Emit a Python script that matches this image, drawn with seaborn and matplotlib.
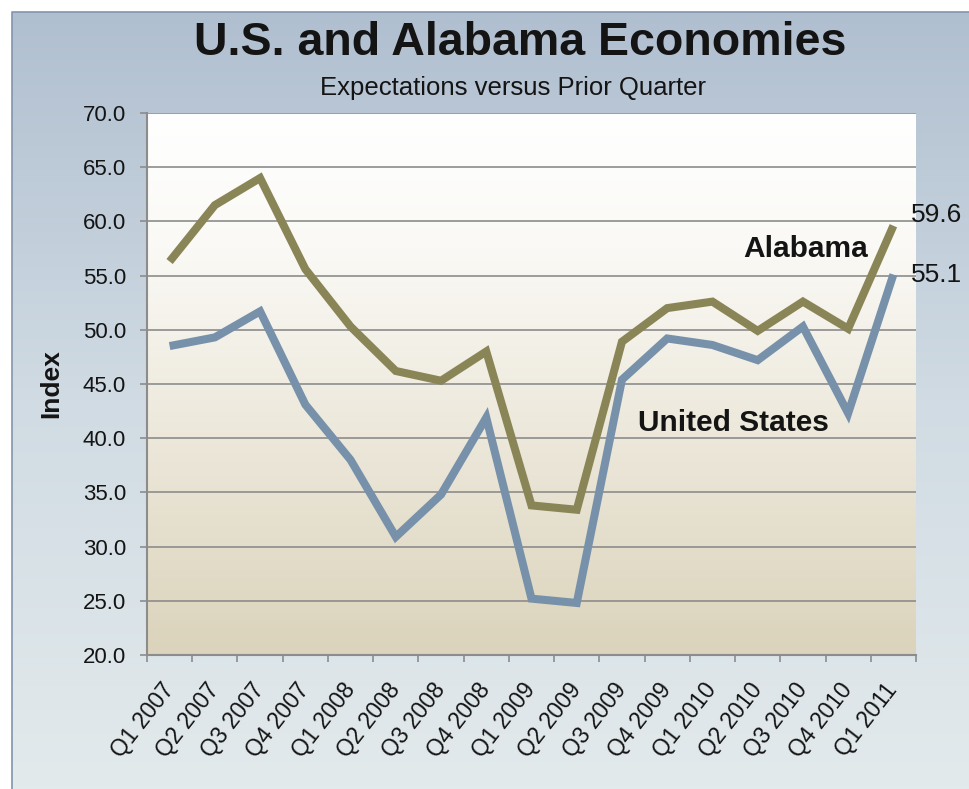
import numpy as np
import pandas as pd
import matplotlib
matplotlib.use("Agg")
import matplotlib.pyplot as plt
import seaborn as sns
from matplotlib.colors import LinearSegmentedColormap
from matplotlib.lines import Line2D
from matplotlib.ticker import FixedLocator, FormatStrFormatter

# Survey index by quarter
quarters = ["Q1 2007", "Q2 2007", "Q3 2007", "Q4 2007",
            "Q1 2008", "Q2 2008", "Q3 2008", "Q4 2008",
            "Q1 2009", "Q2 2009", "Q3 2009", "Q4 2009",
            "Q1 2010", "Q2 2010", "Q3 2010", "Q4 2010",
            "Q1 2011"]
alabama = [56.3, 61.5, 64.0, 55.6, 50.3, 46.2, 45.3, 48.0, 33.8,
           33.4, 48.9, 52.0, 52.6, 49.9, 52.6, 50.1, 59.6]
united_states = [48.5, 49.3, 51.7, 43.1, 38.0, 30.9, 34.8, 41.9, 25.2,
                 24.8, 45.4, 49.2, 48.6, 47.2, 50.3, 42.3, 55.1]
y_ticks = [20, 25, 30, 35, 40, 45, 50, 55, 60, 65, 70]

series_colors = {"Alabama": "#8A8556", "United States": "#7791AB"}
text_color = "#141414"

df = pd.DataFrame({
    "pos": list(range(len(quarters))) * 2,
    "quarter": quarters * 2,
    "value": alabama + united_states,
    "series": ["Alabama"] * len(quarters) + ["United States"] * len(quarters),
})

sns.set_theme(style="white")
plt.rcParams["font.family"] = ["Liberation Sans", "DejaVu Sans"]

W, H = 969, 789
fig = plt.figure(figsize=(W / 100, H / 100), dpi=100)
fig.patch.set_facecolor("white")

# slide-style backdrop with a vertical blue-grey gradient
bg = fig.add_axes([12 / W, 0, 1 - 12 / W, 1 - 12 / H], zorder=-10)
bg_cmap = LinearSegmentedColormap.from_list(
    "backdrop", [(0, "#B0BFD0"), (0.5, "#D0DBE3"), (1, "#E3EAEC")])
bg.imshow(np.linspace(0, 1, 256).reshape(-1, 1), cmap=bg_cmap,
          aspect="auto", extent=[0, 1, 0, 1], origin="upper")
bg.set_xlim(0, 1)
bg.set_ylim(0, 1)
bg.axis("off")
# frame on the left and top edges only
bg.add_line(Line2D([0, 0, 1], [0, 1, 1], transform=bg.transAxes,
                   color="#8395AC", lw=1.2, clip_on=False))

# plotting area
x0, x1, y0, y1 = 147, 916, 113, 655
ax = fig.add_axes([x0 / W, 1 - y1 / H, (x1 - x0) / W, (y1 - y0) / H])
plot_cmap = LinearSegmentedColormap.from_list(
    "panel", [(0, "#FFFFFF"), (0.25, "#FAF9F5"), (0.55, "#EEEADE"), (1, "#DBD3BB")])
ax.imshow(np.linspace(0, 1, 256).reshape(-1, 1), cmap=plot_cmap, aspect="auto",
          extent=[-0.5, len(quarters) - 0.5, 20, 70], origin="upper", zorder=-1)

sns.lineplot(data=df, x="pos", y="value", hue="series", palette=series_colors,
             linewidth=5.8, legend=False, ax=ax, zorder=3)
for line in ax.lines:
    line.set_solid_joinstyle("miter")
    line.set_solid_capstyle("butt")

ax.set_xlim(-0.5, len(quarters) - 0.5)
ax.set_ylim(20, 70)
ax.set_facecolor("none")

# horizontal gridlines
ax.yaxis.grid(True, color="#8C8C8C", lw=1.2)
ax.xaxis.grid(False)
ax.set_axisbelow(True)

for side in ("top", "right"):
    ax.spines[side].set_visible(False)
for side in ("left", "bottom"):
    ax.spines[side].set_color("#8C8C8C")
    ax.spines[side].set_linewidth(1.5)

ax.set_yticks(y_ticks)
ax.yaxis.set_major_formatter(FormatStrFormatter("%.1f"))
ax.tick_params(axis="y", left=True, length=5, width=1.2, color="#8C8C8C",
               pad=10, labelsize=16, labelcolor=text_color)

ax.set_xticks(range(len(quarters)))
ax.set_xticklabels(quarters, rotation=52, ha="right", va="center",
                   rotation_mode="anchor", fontsize=16.5, color=text_color)
ax.xaxis.set_minor_locator(FixedLocator(np.arange(-0.5, len(quarters), 1)))
ax.tick_params(axis="x", which="major", bottom=True, length=0, pad=22)
ax.tick_params(axis="x", which="minor", bottom=True, length=5, width=1.2,
               color="#8C8C8C")

ax.set_xlabel("")
ax.set_ylabel("Index", fontsize=19, fontweight="bold", color=text_color,
              labelpad=14)

# titles
fig.text(520 / W, 1 - 55 / H, "U.S. and Alabama Economies", ha="center",
         va="baseline", fontsize=33.5, fontweight="bold", color=text_color)
fig.text(513 / W, 1 - 95 / H, "Expectations versus Prior Quarter", ha="center",
         va="baseline", fontsize=18.5, color=text_color)

# series names
ax.text(14.05, 57.5, "Alabama", ha="center", va="center", fontsize=21.5,
        fontweight="bold", color=text_color)
ax.text(12.47, 41.4, "United States", ha="center", va="center", fontsize=21.5,
        fontweight="bold", color=text_color)

# latest values
last = len(quarters) - 1
ax.annotate(f"{alabama[-1]:.1f}", xy=(last, alabama[-1]), xytext=(13, 8),
            textcoords="offset points", ha="left", va="center", fontsize=19,
            color=text_color, annotation_clip=False)
ax.annotate(f"{united_states[-1]:.1f}", xy=(last, united_states[-1]),
            xytext=(13, 0), textcoords="offset points", ha="left", va="center",
            fontsize=19, color=text_color, annotation_clip=False)

fig.savefig("out.png", dpi=100)
